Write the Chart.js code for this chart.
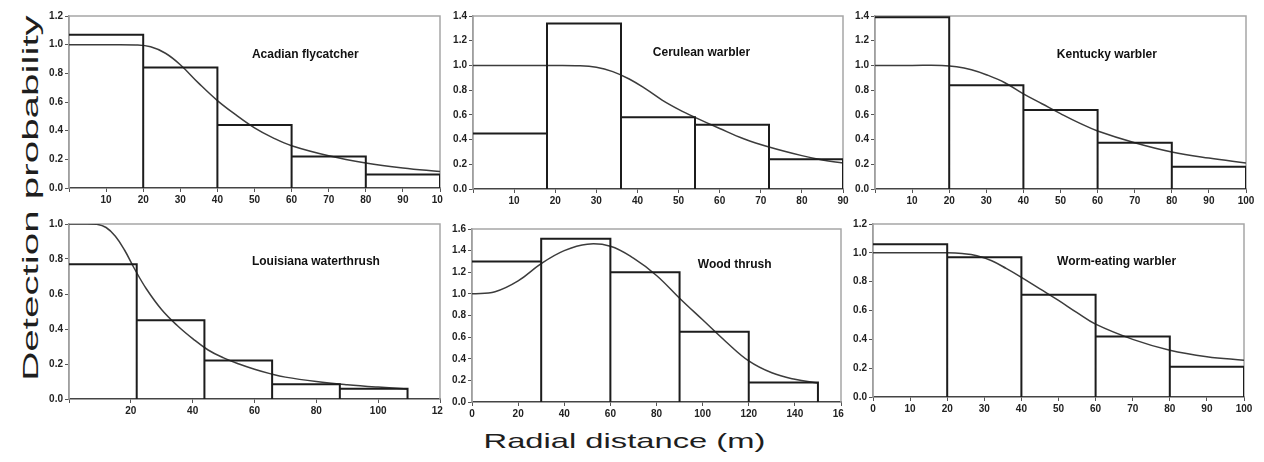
<!DOCTYPE html>
<html>
<head>
<meta charset="utf-8">
<title>Detection probability by radial distance</title>
<script src="https://cdn.jsdelivr.net/npm/chart.js@4.4.1/dist/chart.umd.min.js"></script>
<style>
  html, body { margin: 0; padding: 0; background: #fff; }
  body {
    width: 1264px; height: 462px; position: relative; overflow: hidden;
    font-family: "Liberation Sans", Arial, sans-serif;
  }
  canvas { position: absolute; }
  .axis-title {
    position: absolute; white-space: nowrap; color: #1e1e1e;
    line-height: 1; font-weight: normal;
  }
</style>
</head>
<body>

<div id="yTitle" class="axis-title" style="font-size:22px">Detection probability</div>
<div id="xTitle" class="axis-title" style="font-size:21px">Radial distance (m)</div>

<script>
// ---- data ----
const species = ['Acadian flycatcher', 'Cerulean warbler', 'Kentucky warbler',
                 'Louisiana waterthrush', 'Wood thrush', 'Worm-eating warbler'];

// histogram bin edges (m) and bar heights
const acadianEdges = [0, 20, 40, 60, 80, 100];
const acadianBars = [1.07, 0.84, 0.44, 0.22, 0.095];
const ceruleanEdges = [0, 18, 36, 54, 72, 90];
const ceruleanBars = [0.45, 1.34, 0.58, 0.52, 0.24];
const kentuckyEdges = [0, 20, 40, 60, 80, 100];
const kentuckyBars = [1.39, 0.84, 0.64, 0.375, 0.18];
const louisianaEdges = [0, 21.9, 43.8, 65.7, 87.6, 109.5];
const louisianaBars = [0.77, 0.45, 0.22, 0.085, 0.058];
const woodEdges = [0, 30, 60, 90, 120, 150];
const woodBars = [1.30, 1.51, 1.20, 0.65, 0.18];
const wormEdges = [0, 20, 40, 60, 80, 100];
const wormBars = [1.06, 0.97, 0.71, 0.42, 0.21];

// fitted detection function, sampled by eye
const acadianCurveX = [0, 10, 18, 22, 26, 30, 35, 40, 45, 50, 55, 60, 70, 80, 90, 100];
const acadianCurveY = [1.0, 1.0, 0.998, 0.985, 0.94, 0.86, 0.73, 0.61, 0.51, 0.42, 0.35, 0.295, 0.225, 0.175, 0.14, 0.115];
const ceruleanCurveX = [0, 10, 20, 25, 30, 34, 38, 42, 46, 50, 54, 60, 66, 72, 80, 85, 90];
const ceruleanCurveY = [1.0, 1.0, 1.0, 0.998, 0.985, 0.95, 0.89, 0.81, 0.72, 0.645, 0.58, 0.49, 0.405, 0.34, 0.27, 0.235, 0.21];
const kentuckyCurveX = [0, 10, 18, 22, 26, 30, 35, 40, 45, 50, 55, 60, 70, 80, 90, 100];
const kentuckyCurveY = [1.0, 1.0, 1.0, 0.99, 0.965, 0.925, 0.86, 0.77, 0.69, 0.61, 0.535, 0.47, 0.375, 0.30, 0.25, 0.21];
const louisianaCurveX = [0, 5, 9, 12, 15, 18, 21, 25, 30, 35, 40, 45, 50, 55, 60, 65, 70, 80, 90, 100, 109.5];
const louisianaCurveY = [1.0, 1.0, 0.998, 0.98, 0.93, 0.85, 0.75, 0.63, 0.51, 0.42, 0.345, 0.28, 0.235, 0.20, 0.17, 0.145, 0.125, 0.10, 0.082, 0.068, 0.057];
const woodCurveX = [0, 10, 20, 30, 40, 50, 60, 70, 80, 90, 100, 110, 120, 130, 140, 150];
const woodCurveY = [1.0, 1.02, 1.12, 1.28, 1.40, 1.46, 1.44, 1.33, 1.17, 0.96, 0.76, 0.56, 0.38, 0.27, 0.21, 0.175];
const wormCurveX = [0, 10, 20, 24, 28, 32, 36, 40, 45, 50, 55, 60, 70, 80, 90, 100];
const wormCurveY = [1.0, 1.0, 1.0, 0.995, 0.98, 0.945, 0.89, 0.83, 0.75, 0.67, 0.585, 0.505, 0.40, 0.325, 0.28, 0.255];

// ---- panel layout (page pixels of the plot area: left, top, right, bottom) ----
const panels = [
  { name: species[0], edges: acadianEdges, bars: acadianBars, cx: acadianCurveX, cy: acadianCurveY,
    box: [69, 16, 440, 188], xMax: 100, xStep: 10, yMax: 1.2, showZero: false, padRight: 3, label: [0.493, 0.227] },
  { name: species[1], edges: ceruleanEdges, bars: ceruleanBars, cx: ceruleanCurveX, cy: ceruleanCurveY,
    box: [473, 16, 843, 189], xMax: 90, xStep: 10, yMax: 1.4, showZero: false, padRight: 8, label: [0.486, 0.214] },
  { name: species[2], edges: kentuckyEdges, bars: kentuckyBars, cx: kentuckyCurveX, cy: kentuckyCurveY,
    box: [875, 16, 1246, 189], xMax: 100, xStep: 10, yMax: 1.4, showZero: false, padRight: 18, label: [0.49, 0.225] },
  { name: species[3], edges: louisianaEdges, bars: louisianaBars, cx: louisianaCurveX, cy: louisianaCurveY,
    box: [69, 224, 440, 399], xMax: 120, xStep: 20, yMax: 1.0, showZero: false, padRight: 3, label: [0.493, 0.217] },
  { name: species[4], edges: woodEdges, bars: woodBars, cx: woodCurveX, cy: woodCurveY,
    box: [472, 229, 841, 402], xMax: 160, xStep: 20, yMax: 1.6, showZero: true, padRight: 3, label: [0.612, 0.208] },
  { name: species[5], edges: wormEdges, bars: wormBars, cx: wormCurveX, cy: wormCurveY,
    box: [873, 224, 1244, 397], xMax: 100, xStep: 10, yMax: 1.2, showZero: true, padRight: 18, label: [0.496, 0.22] }
];

const Y_AXIS_W = 36;
const X_AXIS_H = 22;
const PAD_TOP = 8;
const FONT = '"Liberation Sans", Arial, sans-serif';

// light frame round the plot area
const framePlugin = {
  id: 'frame',
  beforeDatasetsDraw(chart) {
    const a = chart.chartArea, ctx = chart.ctx;
    ctx.save();
    ctx.strokeStyle = '#a6a6a6';
    ctx.lineWidth = 1.5;
    ctx.beginPath();
    ctx.moveTo(a.left, a.bottom);
    ctx.lineTo(a.left, a.top);
    ctx.lineTo(a.right, a.top);
    ctx.lineTo(a.right, a.bottom);
    ctx.stroke();
    ctx.restore();
  }
};

// species name inside each panel
const namePlugin = {
  id: 'speciesName',
  afterDatasetsDraw(chart, args, opts) {
    const a = chart.chartArea, ctx = chart.ctx;
    ctx.save();
    ctx.font = 'bold 12px ' + FONT;
    ctx.fillStyle = '#111';
    ctx.textAlign = 'left';
    ctx.textBaseline = 'middle';
    ctx.fillText(opts.text, a.left + opts.fx * (a.right - a.left), a.top + opts.fy * (a.bottom - a.top));
    ctx.restore();
  }
};

function histogramPath(edges, bars) {
  // outline of the bars: up the first edge, across, down, up the next...
  const pts = [{ x: edges[0], y: bars[0] }];
  bars.forEach((v, i) => {
    if (i > 0) pts.push({ x: edges[i], y: 0 }, { x: edges[i], y: v });
    pts.push({ x: edges[i + 1], y: v }, { x: edges[i + 1], y: 0 });
  });
  return pts;
}

function makePanel(p) {
  const [L, T, R, B] = p.box;
  const canvas = document.createElement('canvas');
  canvas.width = R - L + Y_AXIS_W + p.padRight;
  canvas.height = B - T + PAD_TOP + X_AXIS_H;
  canvas.style.left = (L - Y_AXIS_W) + 'px';
  canvas.style.top = (T - PAD_TOP) + 'px';
  document.body.appendChild(canvas);

  new Chart(canvas.getContext('2d'), {
    type: 'line',
    data: {
      datasets: [
        {
          data: histogramPath(p.edges, p.bars),
          borderColor: '#1c1c1c',
          borderWidth: 2,
          pointRadius: 0,
          tension: 0,
          fill: false
        },
        {
          data: p.cx.map((x, i) => ({ x: x, y: p.cy[i] })),
          borderColor: '#3c3c3c',
          borderWidth: 1.5,
          pointRadius: 0,
          tension: 0.4,
          fill: false
        }
      ]
    },
    options: {
      responsive: false,
      animation: false,
      layout: { padding: { left: 0, top: PAD_TOP, right: p.padRight, bottom: 0 } },
      plugins: {
        legend: { display: false },
        tooltip: { enabled: false },
        speciesName: { text: p.name, fx: p.label[0], fy: p.label[1] }
      },
      scales: {
        x: {
          type: 'linear',
          min: 0,
          max: p.xMax,
          border: { color: '#444', width: 1.5 },
          grid: { drawOnChartArea: false, color: '#555', tickLength: 4 },
          ticks: {
            stepSize: p.xStep,
            autoSkip: false,
            maxRotation: 0,
            padding: 2,
            color: '#222',
            font: { family: FONT, size: 10, weight: 'bold' },
            callback: v => (v === 0 && !p.showZero) ? '' : String(v)
          },
          afterFit: s => { s.height = X_AXIS_H; s.paddingLeft = 0; s.paddingRight = 0; }
        },
        y: {
          min: 0,
          max: p.yMax,
          border: { color: '#8a8a8a', width: 1.5 },
          grid: { drawOnChartArea: false, color: '#555', tickLength: 4 },
          ticks: {
            stepSize: 0.2,
            padding: 2,
            color: '#222',
            font: { family: FONT, size: 10, weight: 'bold' },
            callback: v => Number(v).toFixed(1)
          },
          afterFit: s => { s.width = Y_AXIS_W; s.paddingTop = 0; s.paddingBottom = 0; }
        }
      }
    },
    plugins: [framePlugin, namePlugin]
  });
}

panels.forEach(makePanel);

// big shared axis titles, stretched like in the printed figure
function placeTitle(id, cx, cy, length, rotate) {
  const el = document.getElementById(id);
  const w = el.offsetWidth;
  const k = length / w;
  el.style.left = (cx - w / 2) + 'px';
  el.style.top = (cy - el.offsetHeight / 2) + 'px';
  el.style.transform = (rotate ? 'rotate(-90deg) ' : '') + 'scaleX(' + k.toFixed(3) + ')';
}
placeTitle('yTitle', 30, 198, 365, true);
placeTitle('xTitle', 624, 440, 282, false);
</script>
</body>
</html>
